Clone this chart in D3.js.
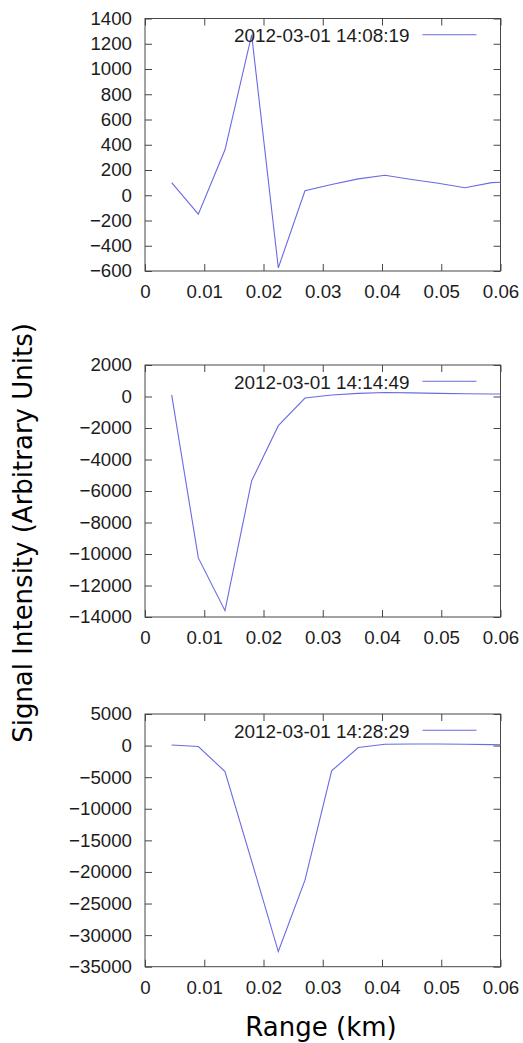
<!DOCTYPE html>
<html>
<head>
<meta charset="utf-8">
<script src="https://cdn.jsdelivr.net/npm/d3@7"></script>
<style>
  html, body { margin: 0; padding: 0; background: #fff; }
  svg { display: block; }
</style>
</head>
<body>
<svg id="chart" width="523" height="1043"></svg>
<script>
// ---- data ----
const rangeKm = [0.0045, 0.009, 0.0135, 0.018, 0.0225, 0.027, 0.0315, 0.036, 0.0405, 0.045, 0.0495, 0.054, 0.0585, 0.063];
const seriesNames = ["2012-03-01 14:08:19", "2012-03-01 14:14:49", "2012-03-01 14:28:29"];
const signal1 = [100, -150, 360, 1270, -575, 35, 85, 130, 158, 125, 95, 60, 100, 110];
const signal2 = [100, -10250, -13600, -5350, -1850, -100, 100, 200, 250, 230, 200, 170, 160, 150];
const signal3 = [100, -150, -4100, -18300, -32600, -21300, -4000, -300, 200, 250, 250, 200, 150, 50];
const xTicks = [0, 0.01, 0.02, 0.03, 0.04, 0.05, 0.06];
const xTickLabels = ["0", "0.01", "0.02", "0.03", "0.04", "0.05", "0.06"];
const yTicks1 = [-600, -400, -200, 0, 200, 400, 600, 800, 1000, 1200, 1400];
const yTicks2 = [-14000, -12000, -10000, -8000, -6000, -4000, -2000, 0, 2000];
const yTicks3 = [-35000, -30000, -25000, -20000, -15000, -10000, -5000, 0, 5000];
const yLabel = "Signal Intensity (Arbitrary Units)";
const xLabel = "Range (km)";

// ---- layout ----
const svg = d3.select("#chart");
svg.append("rect").attr("width", 523).attr("height", 1043).attr("fill", "#fff");

const left = 145, right = 500.5;
const panels = [
  { top: 18.5, bottom: 271, values: signal1, ticks: yTicks1, name: seriesNames[0] },
  { top: 365, bottom: 617, values: signal2, ticks: yTicks2, name: seriesNames[1] },
  { top: 714, bottom: 966.7, values: signal3, ticks: yTicks3, name: seriesNames[2] }
];

const tickFont = "'Liberation Sans', Arial, Helvetica, sans-serif";
const labelFont = "'DejaVu Sans', Verdana, sans-serif";
const lineColor = "#6a6ae4";
const frameColor = "#474747";
const textColor = "#1c1c1c";

const x = d3.scaleLinear().domain([0, 0.06]).range([left, right]);

panels.forEach((p, i) => {
  const y = d3.scaleLinear().domain([p.ticks[0], p.ticks[p.ticks.length - 1]]).range([p.bottom, p.top]);
  const g = svg.append("g");
  const clipId = "clip" + i;
  svg.append("clipPath").attr("id", clipId)
    .append("rect").attr("x", left).attr("y", p.top).attr("width", right - left).attr("height", p.bottom - p.top);

  // axes (inward ticks on all four sides)
  const styleAxis = sel => {
    sel.select(".domain").remove();
    sel.selectAll(".tick line").attr("stroke", frameColor).attr("stroke-width", 1);
    sel.selectAll(".tick text").attr("fill", textColor);
    sel.attr("font-family", tickFont).attr("font-size", 18.7);
  };
  g.append("g").attr("transform", `translate(${left},0)`)
    .call(d3.axisLeft(y).tickValues(p.ticks).tickFormat(d3.format("d")).tickSize(-7).tickPadding(13))
    .call(styleAxis);
  g.append("g").attr("transform", `translate(${right},0)`)
    .call(d3.axisRight(y).tickValues(p.ticks).tickFormat("").tickSize(-7))
    .call(styleAxis);
  g.append("g").attr("transform", `translate(0,${p.bottom})`)
    .call(d3.axisBottom(x).tickValues(xTicks).tickFormat((d, j) => xTickLabels[j]).tickSize(-7).tickPadding(13.7))
    .call(styleAxis);
  g.append("g").attr("transform", `translate(0,${p.top})`)
    .call(d3.axisTop(x).tickValues(xTicks).tickFormat("").tickSize(-7))
    .call(styleAxis);

  // frame
  g.append("rect").attr("x", left).attr("y", p.top)
    .attr("width", right - left).attr("height", p.bottom - p.top)
    .attr("fill", "none").attr("stroke", frameColor).attr("stroke-width", 1);

  // data line
  const line = d3.line().x((d, j) => x(rangeKm[j])).y(d => y(d));
  g.append("path").datum(p.values)
    .attr("clip-path", `url(#${clipId})`)
    .attr("d", line)
    .attr("fill", "none").attr("stroke", lineColor).attr("stroke-width", 1.1);

  // legend
  g.append("text").attr("x", 409.5).attr("y", p.top + 23.5)
    .attr("text-anchor", "end").attr("font-family", tickFont).attr("font-size", 18.9)
    .attr("fill", textColor).text(p.name);
  g.append("line").attr("x1", 422.5).attr("x2", 476.5)
    .attr("y1", p.top + 16.3).attr("y2", p.top + 16.3)
    .attr("stroke", lineColor).attr("stroke-width", 1.1);
});

// axis titles
svg.append("text")
  .attr("transform", "translate(31.5,533) rotate(-90)")
  .attr("text-anchor", "middle").attr("font-family", labelFont).attr("font-size", 26)
  .attr("fill", "#000").text(yLabel);
svg.append("text")
  .attr("x", 321).attr("y", 1036)
  .attr("text-anchor", "middle").attr("font-family", labelFont).attr("font-size", 26)
  .attr("fill", "#000").text(xLabel);
</script>
</body>
</html>
